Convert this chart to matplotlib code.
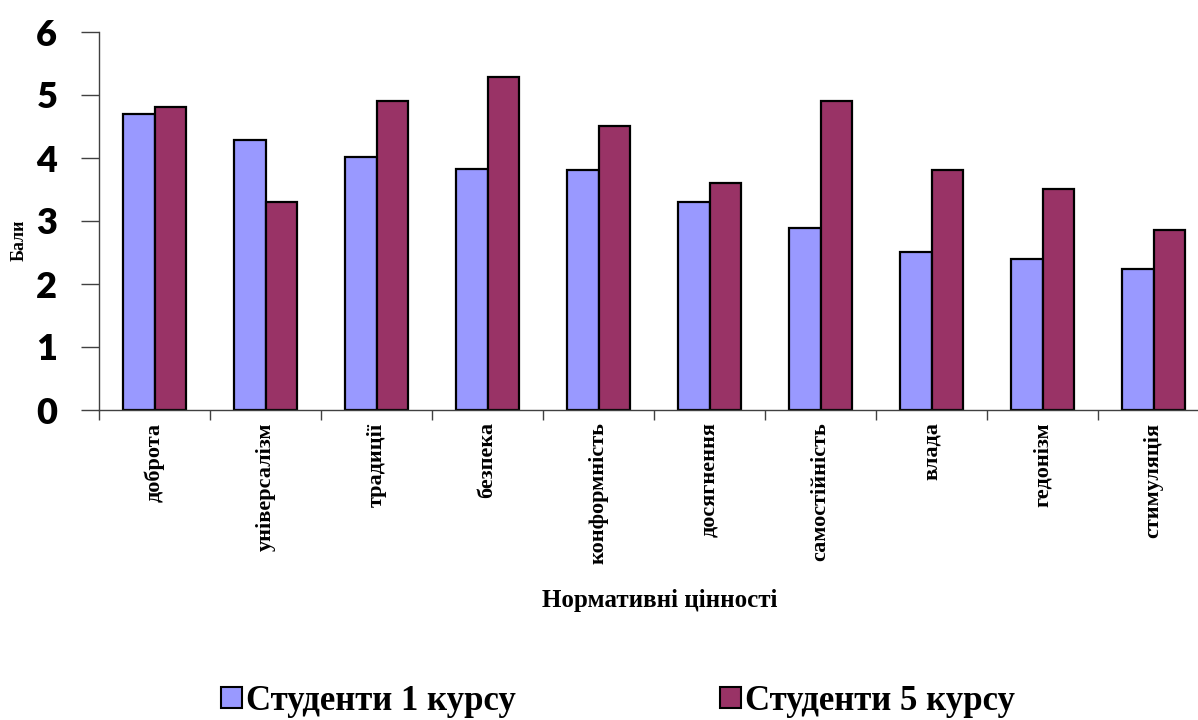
import numpy as np
import matplotlib
matplotlib.use("Agg")
import matplotlib.pyplot as plt
from matplotlib.patches import Patch

# дані з діаграми
categories = ['доброта', 'універсалізм', 'традиції', 'безпека', 'конформність',
              'досягнення', 'самостійність', 'влада', 'гедонізм', 'стимуляція']
kurs1 = [4.70, 4.29, 4.02, 3.83, 3.81, 3.30, 2.89, 2.51, 2.40, 2.24]
kurs5 = [4.81, 3.30, 4.90, 5.28, 4.51, 3.60, 4.90, 3.81, 3.51, 2.86]
legend_labels = ['Студенти 1 курсу', 'Студенти 5 курсу']
colors = ['#9999FF', '#993366']

fig = plt.figure(figsize=(11.98, 7.2), dpi=100)
ax = fig.add_axes([99 / 1198, 1 - 410 / 720, 1110 / 1198, 378 / 720])

x = np.arange(len(categories))
w = 0.285
ax.bar(x - w / 2, kurs1, w, color=colors[0], edgecolor='black', linewidth=1.6)
ax.bar(x + w / 2, kurs5, w, color=colors[1], edgecolor='black', linewidth=1.6)

ax.set_xlim(-0.5, len(categories) - 0.5)
ax.set_ylim(0, 6)
ax.set_yticks(range(7))
ax.set_yticklabels([str(i) for i in range(7)], fontfamily='Lato', fontweight='heavy', fontsize=26)
ax.tick_params(axis='y', length=13, width=1, color='#404040', pad=17)

ax.set_xticks(x)
ax.set_xticklabels(categories, rotation=90, fontfamily='Liberation Serif',
                   fontweight='bold', fontsize=16)
ax.set_xticks(np.arange(-0.5, len(categories), 1), minor=True)
ax.tick_params(axis='x', which='major', length=0, pad=9)
ax.tick_params(axis='x', which='minor', length=7, width=1, color='#404040')

for s in ['top', 'right']:
    ax.spines[s].set_visible(False)
for s in ['left', 'bottom']:
    ax.spines[s].set_color('#404040')
    ax.spines[s].set_linewidth(1)

fig.text(19 / 1198, 1 - 240 / 720, 'Бали', rotation=90, ha='center', va='center',
         fontfamily='Liberation Serif', fontweight='bold', fontsize=13)
fig.text(660 / 1198, 1 - 600 / 720, 'Нормативні цінності', ha='center', va='center',
         fontfamily='Liberation Serif', fontweight='bold', fontsize=18)

handles = [Patch(facecolor=c, edgecolor='black', linewidth=1.5) for c in colors]
fig.legend(handles, legend_labels, loc='center', bbox_to_anchor=(618 / 1198, 1 - 701 / 720),
           ncol=2, frameon=False, columnspacing=5.9, handlelength=0.6, handleheight=0.55,
           handletextpad=0.1, borderpad=0.2,
           prop={'family': 'Liberation Serif', 'weight': 'bold', 'size': 25})

fig.savefig('out.png', dpi=100)
